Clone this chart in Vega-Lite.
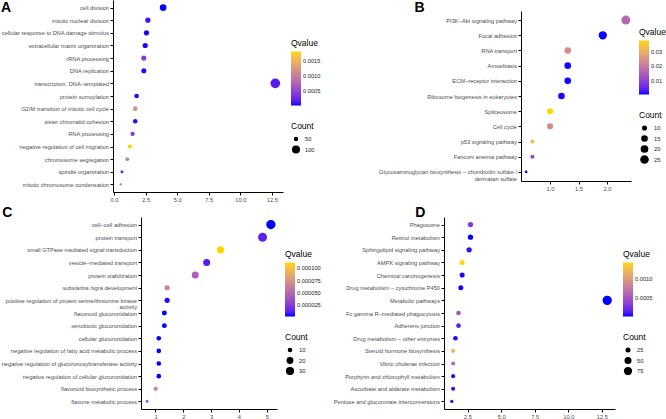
{
  "$schema": "https://vega.github.io/schema/vega-lite/v6.json",
  "padding": 0,
  "datasets": {
    "A": [
      {"term": "cell division", "x": 3.89, "Count": 76, "Qvalue": 0.00001},
      {"term": "mitotic nuclear division", "x": 2.68, "Count": 58, "Qvalue": 0.0001},
      {"term": "cellular response to DNA damage stimulus", "x": 2.57, "Count": 58, "Qvalue": 0.00003},
      {"term": "extracellular matrix organization", "x": 2.47, "Count": 57, "Qvalue": 0.00003},
      {"term": "rRNA processing", "x": 2.36, "Count": 56, "Qvalue": 0.0004},
      {"term": "DNA replication", "x": 2.36, "Count": 56, "Qvalue": 0.00005},
      {"term": "transcription, DNA−templated", "x": 12.77, "Count": 140, "Qvalue": 0.00015},
      {"term": "protein sumoylation", "x": 1.79, "Count": 52, "Qvalue": 0.00005},
      {"term": "G2/M transition of mitotic cell cycle", "x": 1.68, "Count": 51, "Qvalue": 0.00118},
      {"term": "sister chromatid cohesion", "x": 1.68, "Count": 51, "Qvalue": 0.00005},
      {"term": "RNA processing", "x": 1.47, "Count": 49, "Qvalue": 0.0004},
      {"term": "negative regulation of cell migration", "x": 1.26, "Count": 48, "Qvalue": 0.00181},
      {"term": "chromosome segregation", "x": 1.05, "Count": 46, "Qvalue": 0.001},
      {"term": "spindle organization", "x": 0.63, "Count": 41, "Qvalue": 0.0002},
      {"term": "mitotic chromosome condensation", "x": 0.53, "Count": 38, "Qvalue": 0.0009}
    ],
    "B": [
      {"term": "PI3K−Akt signaling pathway", "x": 2.33, "Count": 28, "Qvalue": 0.017},
      {"term": "Focal adhesion", "x": 1.925, "Count": 23, "Qvalue": 0.0003},
      {"term": "RNA transport", "x": 1.31, "Count": 15, "Qvalue": 0.024},
      {"term": "Amoebiasis", "x": 1.31, "Count": 15, "Qvalue": 0.0004},
      {"term": "ECM−receptor interaction", "x": 1.31, "Count": 15, "Qvalue": 0.0004},
      {"term": "Ribosome biogenesis in eukaryotes", "x": 1.2, "Count": 15, "Qvalue": 0.0006},
      {"term": "Spliceosome", "x": 1.0, "Count": 13, "Qvalue": 0.038},
      {"term": "Cell cycle", "x": 1.0, "Count": 13, "Qvalue": 0.024},
      {"term": "p53 signaling pathway", "x": 0.69, "Count": 8, "Qvalue": 0.032},
      {"term": "Fanconi anemia pathway", "x": 0.69, "Count": 8, "Qvalue": 0.011},
      {"term": "Glycosaminoglycan biosynthesis − chondroitin sulfate / dermatan sulfate", "x": 0.58, "Count": 6, "Qvalue": 0.0002}
    ],
    "C": [
      {"term": "cell−cell adhesion", "x": 5.15, "Count": 42, "Qvalue": 0.000001},
      {"term": "protein transport", "x": 4.85, "Count": 38, "Qvalue": 0.000012},
      {"term": "small GTPase mediated signal transduction", "x": 3.34, "Count": 23, "Qvalue": 0.000112},
      {"term": "vesicle−mediated transport", "x": 2.84, "Count": 21, "Qvalue": 0.00001},
      {"term": "protein stabilization", "x": 2.43, "Count": 21, "Qvalue": 0.000045},
      {"term": "substantia nigra development", "x": 1.42, "Count": 12, "Qvalue": 0.000067},
      {"term": "positive regulation of protein serine/threonine kinase activity", "x": 1.42, "Count": 12, "Qvalue": 0.000003},
      {"term": "flavonoid glucuronidation", "x": 1.32, "Count": 11, "Qvalue": 0.000001},
      {"term": "xenobiotic glucuronidation", "x": 1.32, "Count": 11, "Qvalue": 0.000001},
      {"term": "cellular glucuronidation", "x": 1.12, "Count": 10, "Qvalue": 0.000001},
      {"term": "negative regulation of fatty acid metabolic process", "x": 1.12, "Count": 10, "Qvalue": 0.000001},
      {"term": "negative regulation of glucuronosyltransferase activity", "x": 1.12, "Count": 10, "Qvalue": 0.000001},
      {"term": "negative regulation of cellular glucuronidation", "x": 1.12, "Count": 10, "Qvalue": 0.000001},
      {"term": "flavonoid biosynthetic process", "x": 1.01, "Count": 9, "Qvalue": 0.000067},
      {"term": "flavone metabolic process", "x": 0.7, "Count": 6, "Qvalue": 0.000034}
    ],
    "D": [
      {"term": "Phagosome", "x": 2.72, "Count": 27, "Qvalue": 0.0003},
      {"term": "Retinol metabolism", "x": 2.72, "Count": 27, "Qvalue": 0.00001},
      {"term": "Sphingolipid signaling pathway", "x": 2.62, "Count": 27, "Qvalue": 0.00005},
      {"term": "AMPK signaling pathway", "x": 2.1, "Count": 25, "Qvalue": 0.00144},
      {"term": "Chemical carcinogenesis", "x": 2.1, "Count": 25, "Qvalue": 0.00002},
      {"term": "Drug metabolism − cytochrome P450", "x": 2.0, "Count": 25, "Qvalue": 0.00002},
      {"term": "Metabolic pathways", "x": 12.9, "Count": 105, "Qvalue": 0.00001},
      {"term": "Fc gamma R−mediated phagocytosis", "x": 1.83, "Count": 22, "Qvalue": 0.0005},
      {"term": "Adherens junction", "x": 1.83, "Count": 22, "Qvalue": 0.00015},
      {"term": "Drug metabolism − other enzymes", "x": 1.6, "Count": 22, "Qvalue": 0.00003},
      {"term": "Steroid hormone biosynthesis", "x": 1.43, "Count": 18, "Qvalue": 0.00122},
      {"term": "Vibrio cholerae infection", "x": 1.43, "Count": 18, "Qvalue": 0.00065},
      {"term": "Porphyrin and chlorophyll metabolism", "x": 1.43, "Count": 18, "Qvalue": 0.00005},
      {"term": "Ascorbate and aldarate metabolism", "x": 1.43, "Count": 18, "Qvalue": 0.00005},
      {"term": "Pentose and glucuronate interconversions", "x": 1.33, "Count": 14, "Qvalue": 0.00005}
    ],
    "empty": []
  },
  "vconcat": [
    {
      "hconcat": [
        {"data": {"name": "empty"}, "width": 1, "height": 1, "mark": "point"},
        {
          "data": {"name": "A"},
          "width": 170, "height": 192,
          "title": {"text": "A", "offset": -15, "dx": 0},
          "mark": {"type": "circle", "opacity": 1},
          "encoding": {
            "y": {"field": "term", "type": "nominal", "sort": null, "title": null, "scale": {"type": "point", "padding": 0.6}},
            "x": {"field": "x", "type": "quantitative", "title": null, "scale": {"domain": [-0.08, 13.38], "nice": false, "zero": false}, "axis": {"values": [0, 2.5, 5, 7.5, 10, 12.5], "format": ".1f"}},
            "color": {"field": "Qvalue", "type": "quantitative", "scale": {"range": ["#0000FF", "#FFD700"], "interpolate": "lab", "zero": false, "nice": false}, "legend": {"values": [0.0005, 0.001, 0.0015], "format": ".4f"}},
            "size": {"field": "Count", "type": "quantitative", "scale": {"type": "sqrt", "zero": false, "nice": false, "range": [5.3, 94]}, "legend": {"values": [50, 100], "clipHeight": 9, "rowPadding": 1.5, "encode": {"symbols": {"update": {"fill": {"value": "black"}, "stroke": {"value": "black"}, "opacity": {"value": 1}}}}}}
          }
        },
        {"data": {"name": "empty"}, "width": 57, "height": 1, "mark": "point"},
        {
          "vconcat": [
            {"data": {"name": "empty"}, "width": 1, "height": 1, "mark": "point"},
            {
              "data": {"name": "B"},
              "width": 110, "height": 170,
              "title": {"text": "B", "offset": -4, "dx": 36},
              "mark": {"type": "circle", "opacity": 1},
              "encoding": {
                "y": {"field": "term", "type": "nominal", "sort": null, "title": null, "scale": {"type": "point", "padding": 0.6}, "axis": {"labelExpr": "datum.label == 'Glycosaminoglycan biosynthesis − chondroitin sulfate / dermatan sulfate' ? ['Glycosaminoglycan biosynthesis − chondroitin sulfate /', 'dermatan sulfate'] : datum.label", "labelLineHeight": 6.5}},
                "x": {"field": "x", "type": "quantitative", "title": null, "scale": {"domain": [0.49, 2.42], "nice": false, "zero": false}, "axis": {"values": [1, 1.5, 2], "format": ".1f"}},
                "color": {"field": "Qvalue", "type": "quantitative", "scale": {"range": ["#0000FF", "#FFD700"], "interpolate": "lab", "zero": false, "nice": false}, "legend": {"values": [0.01, 0.02, 0.03], "format": ".2f"}},
                "size": {"field": "Count", "type": "quantitative", "scale": {"type": "sqrt", "zero": false, "nice": false, "range": [7.3, 81]}, "legend": {"values": [10, 15, 20, 25], "clipHeight": 9, "rowPadding": 1.5, "encode": {"symbols": {"update": {"fill": {"value": "black"}, "stroke": {"value": "black"}, "opacity": {"value": 1}}}}}}
              }
            }
          ],
          "spacing": 0,
          "resolve": {"scale": {"x": "independent", "y": "independent", "color": "independent", "size": "independent"}, "legend": {"color": "independent", "size": "independent"}}
        }
      ],
      "spacing": 0,
      "resolve": {"scale": {"x": "independent", "y": "independent", "color": "independent", "size": "independent"}, "legend": {"color": "independent", "size": "independent"}}
    },
    {
      "hconcat": [
        {"data": {"name": "empty"}, "width": 1, "height": 1, "mark": "point"},
        {
          "data": {"name": "C"},
          "width": 136, "height": 192,
          "title": {"text": "C", "offset": -3, "dx": 1},
          "mark": {"type": "circle", "opacity": 1},
          "encoding": {
            "y": {"field": "term", "type": "nominal", "sort": null, "title": null, "scale": {"type": "point", "padding": 0.6}, "axis": {"labelExpr": "datum.label == 'positive regulation of protein serine/threonine kinase activity' ? ['positive regulation of protein serine/threonine kinase', 'activity'] : datum.label", "labelLineHeight": 6.5}},
            "x": {"field": "x", "type": "quantitative", "title": null, "scale": {"domain": [0.48, 5.37], "nice": false, "zero": false}, "axis": {"values": [1, 2, 3, 4, 5], "format": "d"}},
            "color": {"field": "Qvalue", "type": "quantitative", "scale": {"range": ["#0000FF", "#FFD700"], "interpolate": "lab", "zero": false, "nice": false}, "legend": {"values": [0.000025, 0.00005, 0.000075, 0.0001], "format": ".6f"}},
            "size": {"field": "Count", "type": "quantitative", "scale": {"type": "sqrt", "zero": false, "nice": false, "range": [7.3, 86.5]}, "legend": {"values": [10, 20, 30], "clipHeight": 9, "rowPadding": 1.5, "encode": {"symbols": {"update": {"fill": {"value": "black"}, "stroke": {"value": "black"}, "opacity": {"value": 1}}}}}}
          }
        },
        {"data": {"name": "empty"}, "width": 12, "height": 1, "mark": "point"},
        {
          "data": {"name": "D"},
          "width": 171, "height": 192,
          "title": {"text": "D", "offset": -3, "dx": 82},
          "mark": {"type": "circle", "opacity": 1},
          "encoding": {
            "y": {"field": "term", "type": "nominal", "sort": null, "title": null, "scale": {"type": "point", "padding": 0.6}},
            "x": {"field": "x", "type": "quantitative", "title": null, "scale": {"domain": [0.75, 13.48], "nice": false, "zero": false}, "axis": {"values": [2.5, 5, 7.5, 10, 12.5], "format": ".1f"}},
            "color": {"field": "Qvalue", "type": "quantitative", "scale": {"range": ["#0000FF", "#FFD700"], "interpolate": "lab", "zero": false, "nice": false}, "legend": {"values": [0.0005, 0.001], "format": ".4f"}},
            "size": {"field": "Count", "type": "quantitative", "scale": {"type": "sqrt", "zero": false, "nice": false, "range": [10.9, 86.5]}, "legend": {"values": [25, 50, 75], "clipHeight": 9, "rowPadding": 1.5, "encode": {"symbols": {"update": {"fill": {"value": "black"}, "stroke": {"value": "black"}, "opacity": {"value": 1}}}}}}
          }
        }
      ],
      "spacing": 0,
      "resolve": {"scale": {"x": "independent", "y": "independent", "color": "independent", "size": "independent"}, "legend": {"color": "independent", "size": "independent"}}
    }
  ],
  "spacing": 3,
  "resolve": {"scale": {"x": "independent", "y": "independent", "color": "independent", "size": "independent"}, "legend": {"color": "independent", "size": "independent"}},
  "config": {
    "font": "Liberation Sans",
    "view": {"stroke": null},
    "axis": {"grid": false, "domainColor": "black", "tickColor": "black", "labelColor": "#4d4d4d", "labelFontSize": 5.7, "tickSize": 3, "labelPadding": 1.5, "domainWidth": 1, "tickWidth": 1, "labelLimit": 300},
    "legend": {"titleFontSize": 8.5, "titleFontWeight": "normal", "titleColor": "black", "labelFontSize": 5.7, "labelColor": "#222", "gradientLength": 54, "gradientThickness": 10, "offset": 8, "padding": 0, "titlePadding": 4, "symbolType": "circle", "symbolOpacity": 1, "labelOffset": 4, "layout": {"right": {"anchor": "middle", "direction": "vertical", "margin": 16}}},
    "title": {"fontSize": 14, "fontWeight": "bold", "anchor": "start", "frame": "bounds", "color": "black"}
  }
}
